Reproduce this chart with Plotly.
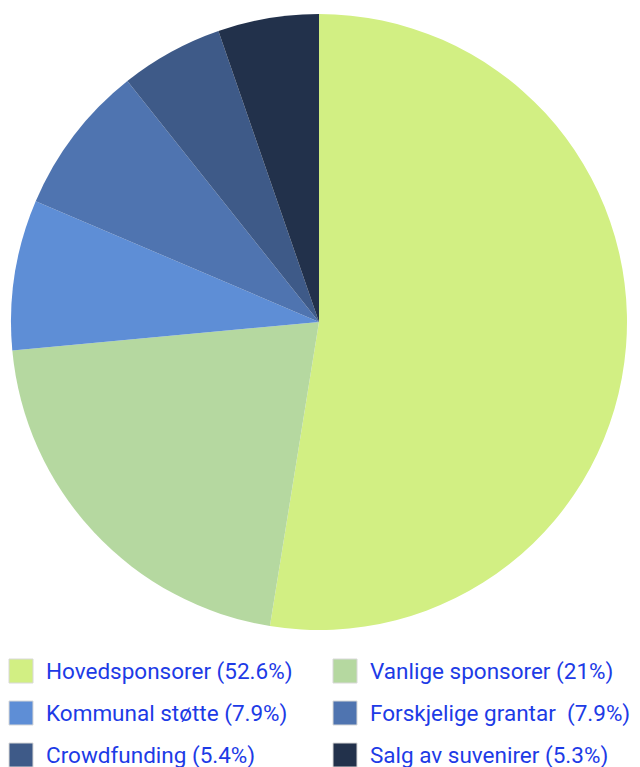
import plotly.graph_objects as go

labels = ["Hovedsponsorer (52.6%)", "Vanlige sponsorer (21%)", "Kommunal støtte (7.9%)",
          "Forskjelige grantar  (7.9%)", "Crowdfunding (5.4%)", "Salg av suvenirer (5.3%)"]
values = [52.6, 21.0, 7.9, 7.9, 5.4, 5.3]
colors = ["#d2ef83", "#b5d8a0", "#5e8ed6", "#4f74b0", "#3e5a88", "#22314b"]

OFF = 8  # page body margin
W, H = 640 - OFF, 767 - OFF
cx, cy, r = 319 - OFF, 322 - OFF, 308

fig = go.Figure(go.Pie(
    labels=labels, values=values, sort=False, direction="clockwise", rotation=0,
    marker=dict(colors=colors, line=dict(width=0)), textinfo="none", hoverinfo="label",
    showlegend=False,
    domain=dict(x=[(cx - r) / W, (cx + r) / W], y=[1 - (cy + r) / H, 1 - (cy - r) / H]),
))

shapes, annots = [], []
col_x = [9 - OFF, 333 - OFF]
text_x = [44 - OFF, 368 - OFF]
row_y = [671 - OFF, 713 - OFF, 755 - OFF]
sw = 24
for i, (lab, c) in enumerate(zip(labels, colors)):
    col, row = i % 2, i // 2
    x0 = col_x[col]
    yc = row_y[row]
    shapes.append(dict(type="rect", xref="paper", yref="paper",
                       x0=x0 / W, x1=(x0 + sw) / W,
                       y0=1 - (yc + sw / 2) / H, y1=1 - (yc - sw / 2) / H,
                       fillcolor=c, line=dict(color="#d8d8d8", width=1)))
    annots.append(dict(xref="paper", yref="paper", x=text_x[col] / W, y=1 - yc / H,
                       xanchor="left", yanchor="middle", showarrow=False, text=lab,
                       font=dict(family="Roboto", size=22.5, color="#1d3be6")))

fig.update_layout(width=W, height=H, margin=dict(l=0, r=0, t=0, b=0),
                  paper_bgcolor="white", plot_bgcolor="white",
                  shapes=shapes, annotations=annots)
fig.write_html("out.html")
